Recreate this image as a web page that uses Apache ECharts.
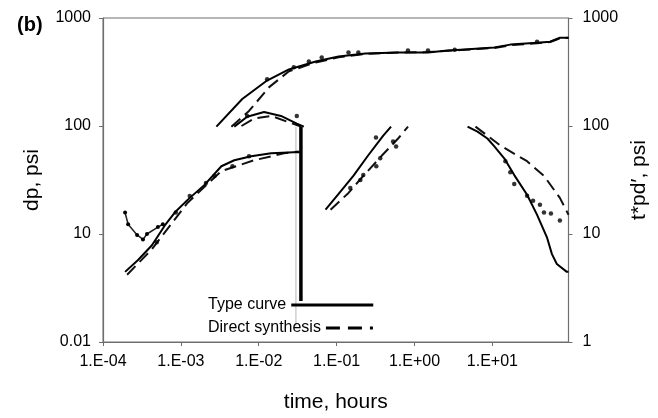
<!DOCTYPE html>
<html>
<head>
<meta charset="utf-8">
<script src="https://cdn.jsdelivr.net/npm/echarts@6/dist/echarts.min.js"></script>
<style>html,body{margin:0;padding:0;background:#fff}#c{width:658px;height:418px}</style>
</head>
<body>
<div id="c"></div>
<script>
// ---------- tick labels ----------
var xTickLabels = ['1.E-04', '1.E-03', '1.E-02', '1.E-01', '1.E+00', '1.E+01'];
var leftTickLabels = ['0.01', '10', '100', '1000'];
var rightTickLabels = ['1', '10', '100', '1000'];

// ---------- Type curve (solid) ----------
var tcPressT = [0.00286, 0.00614, 0.0124, 0.0244, 0.0538, 0.106, 0.234, 0.615, 1.49, 2.67, 3.92, 10.6, 17.0, 37.5, 55, 73.8, 95];
var tcPressV = [98.6, 178, 260, 334, 396, 440, 469, 479, 479, 499, 509, 532, 567, 591, 603, 656, 656];
var tcHumpT = [0.00485, 0.0071, 0.0117, 0.0193, 0.0308, 0.0379];
var tcHumpV = [98.6, 122, 135, 124, 105, 98.6];
var tcDerivT = [1.92e-4, 2.82e-4, 4.25e-4, 6.22e-4, 8.34e-4, 1.22e-3, 2.01e-3, 3.31e-3, 4.85e-3, 8.0e-3, 0.0144, 0.0282, 0.0348];
var tcDerivV = [4.46, 5.74, 7.87, 12.0, 15.8, 20.7, 28.5, 42.4, 48.2, 52.4, 55.8, 57.0, 57.0];
var tcDropT = [0.0348, 0.0348];
var tcDropV = [98.6, 2.4];
var tcMidT = [0.0721, 0.106, 0.164, 0.255, 0.397, 0.50];
var tcMidV = [16.8, 23.5, 34.5, 53.6, 81.6, 98.6];
var tcRightT = [4.80, 6.44, 8.63, 10.6, 14.2, 19.1, 27.9, 37.4, 50.2, 58.2, 67.3, 90.4, 95];
var tcRightV = [98.6, 88.8, 76.6, 64.7, 50.2, 35.1, 23.1, 15.1, 9.32, 6.51, 5.28, 4.46, 4.46];

// ---------- Direct synthesis (dashed) ----------
var dsPressT = [0.00445, 0.0075, 0.0136, 0.0244, 0.0538, 0.106, 0.234, 0.615, 1.49, 3.92, 10.6, 17.0, 37.5, 55, 73.8, 95];
var dsPressV = [98.6, 138, 229, 321, 388, 432, 465, 478, 484, 505, 528, 560, 585, 600, 648, 656];
var dsHumpT = [0.0060, 0.0087, 0.0144, 0.023, 0.0348];
var dsHumpV = [100, 117, 124, 110, 98.6];
var dsDerivT = [2.04e-4, 4.25e-4, 1.22e-3, 3.31e-3, 8.74e-3, 0.0211, 0.0327];
var dsDerivV = [4.19, 7.24, 19.5, 38.2, 48.2, 55.8, 58.0];
var dsMidT = [0.0836, 0.142, 0.220, 0.374, 0.616, 0.826];
var dsMidV = [16.8, 24.0, 34.5, 52.4, 76.6, 98.6];
var dsRightT = [6.07, 12.6, 27.9, 46.0, 73.6, 95];
var dsRightV = [98.6, 66.1, 47.2, 34.5, 21.6, 15.1];

// ---------- measured data (dots) ----------
var dtEarlyT = [1.92e-4, 2.1e-4, 2.74e-4, 3.26e-4, 3.67e-4, 5.07e-4, 5.87e-4];
var dtEarlyV = [15.8, 12.3, 9.8, 8.9, 10.0, 11.6, 12.3];
var dtPressT = [0.0128, 0.0282, 0.044, 0.0644, 0.142, 0.19, 0.824, 1.49, 3.29, 37.5];
var dtPressV = [271, 349, 396, 431, 479, 479, 499, 499, 509, 603];
var dtHumpT = [0.0071, 0.0308];
var dtHumpV = [124, 124];
var dtDerivT = [4.9e-4, 8.6e-4, 1.3e-3, 2.1e-3, 2.7e-3, 4.6e-3, 7.5e-3];
var dtDerivV = [8.4, 15.8, 22.5, 29.7, 34.4, 42.4, 52.4];
var dtMidT = [0.150, 0.202, 0.22, 0.323, 0.363, 0.32, 0.531, 0.58];
var dtMidV = [26.7, 31.6, 35.1, 42.4, 50.2, 78.2, 71.9, 64.7];
var dtRightT = [14.7, 17.0, 19.1, 27.9, 33.3, 40.8, 46.0, 56.5, 73.6];
var dtRightV = [47.2, 37.4, 29.0, 22.6, 20.3, 18.7, 15.8, 15.5, 13.3];

// faint guide line beside the drop
var guideT = [0.0300, 0.0300];
var guideV = [98.6, 1.4];

function pairs(t, v) { return t.map(function (x, i) { return [x, v[i]]; }); }

var FONT = 'Liberation Sans, Arial, sans-serif';
var TC = 'Type curve', DS = 'Direct synthesis';

function solid(t, v, w) {
  return { name: TC, type: 'line', data: pairs(t, v), showSymbol: false, symbol: 'none',
    lineStyle: { color: '#000', width: w || 2 }, itemStyle: { color: '#000' }, z: 3, animation: false };
}
function dashed(t, v) {
  return { name: DS, type: 'line', data: pairs(t, v), showSymbol: false, symbol: 'none',
    lineStyle: { color: '#111', width: 2, type: [12, 6] }, itemStyle: { color: '#111' }, z: 2, animation: false };
}
function dots(t, v) {
  return { name: 'data', type: 'scatter', data: pairs(t, v), symbol: 'circle', symbolSize: 4.5,
    itemStyle: { color: '#000' }, z: 4, animation: false };
}

var legendText = { fontFamily: FONT, fontSize: 16, color: '#000' };

var chart = echarts.init(document.getElementById('c'));
chart.setOption({
  animation: false,
  backgroundColor: '#fff',
  title: { text: '(b)', left: 12, top: 10, textStyle: { fontFamily: FONT, fontSize: 20, fontWeight: 'bold', color: '#000' } },
  grid: { left: 103, right: 86, top: 18, bottom: 72, show: true, borderColor: '#6e6e6e', borderWidth: 1 },
  legend: [
    { data: [TC], left: 208, top: 297, padding: 0, align: 'right', itemWidth: 82, itemHeight: 14,
      itemStyle: { opacity: 0 }, lineStyle: { width: 3, color: '#000' }, textStyle: legendText },
    { data: [DS], left: 208, top: 320, padding: 0, align: 'right', itemWidth: 47, itemHeight: 14,
      itemStyle: { opacity: 0 }, lineStyle: { width: 3, color: '#000', type: [14, 8] }, textStyle: legendText }
  ],
  xAxis: {
    type: 'log', logBase: 10, min: 1e-4, max: 95,
    name: 'time, hours', nameLocation: 'middle', nameGap: 50,
    nameTextStyle: { fontFamily: FONT, fontSize: 21, color: '#000' },
    axisLine: { lineStyle: { color: '#6e6e6e', width: 1.2 } },
    axisTick: { show: true, length: 4, lineStyle: { color: '#6e6e6e' } },
    splitLine: { show: false }, minorTick: { show: false },
    axisLabel: { margin: 12, fontFamily: FONT, fontSize: 16, color: '#000', showMaxLabel: false,
      formatter: function (val) { var e = Math.round(Math.log10(val)); return xTickLabels[e + 4] || ''; } }
  },
  yAxis: [
    { type: 'log', logBase: 10, min: 1, max: 1000, position: 'left',
      name: 'dp, psi', nameLocation: 'middle', nameGap: 60, nameRotate: 90,
      nameTextStyle: { fontFamily: FONT, fontSize: 21, color: '#000' },
      axisLine: { show: true, lineStyle: { color: '#6e6e6e', width: 1.2 } },
      axisTick: { show: true, length: 4, lineStyle: { color: '#6e6e6e' } },
      splitLine: { show: false },
      axisLabel: { margin: 12, fontFamily: FONT, fontSize: 16, color: '#000',
        formatter: function (val) { var e = Math.round(Math.log10(val)); return leftTickLabels[e] || ''; } } },
    { type: 'log', logBase: 10, min: 1, max: 1000, position: 'right',
      name: 't*pd′, psi', nameLocation: 'middle', nameGap: 60, nameRotate: 90,
      nameTextStyle: { fontFamily: FONT, fontSize: 21, color: '#000' },
      axisLine: { show: true, lineStyle: { color: '#6e6e6e', width: 1.2 } },
      axisTick: { show: true, length: 4, lineStyle: { color: '#6e6e6e' } },
      splitLine: { show: false },
      axisLabel: { margin: 14, fontFamily: FONT, fontSize: 16, color: '#000',
        formatter: function (val) { var e = Math.round(Math.log10(val)); return rightTickLabels[e] || ''; } } }
  ],
  series: [
    solid(tcPressT, tcPressV),
    solid(tcHumpT, tcHumpV),
    solid(tcDerivT, tcDerivV),
    solid(tcDropT, tcDropV, 3.5),
    solid(tcMidT, tcMidV),
    solid(tcRightT, tcRightV),
    dashed(dsPressT, dsPressV),
    dashed(dsHumpT, dsHumpV),
    dashed(dsDerivT, dsDerivV),
    dashed(dsMidT, dsMidV),
    dashed(dsRightT, dsRightV),
    { name: 'early', type: 'line', data: pairs(dtEarlyT, dtEarlyV), symbol: 'circle', symbolSize: 4, showSymbol: true,
      lineStyle: { color: '#222', width: 1.5 }, itemStyle: { color: '#000' }, animation: false },
    { name: 'guide', type: 'line', data: pairs(guideT, guideV), symbol: 'none',
      lineStyle: { color: '#cfcfcf', width: 1.5 }, z: 1, animation: false },
    dots(dtPressT, dtPressV),
    dots(dtHumpT, dtHumpV),
    dots(dtDerivT, dtDerivV),
    dots(dtMidT, dtMidV),
    dots(dtRightT, dtRightV)
  ]
});
</script>
</body>
</html>
